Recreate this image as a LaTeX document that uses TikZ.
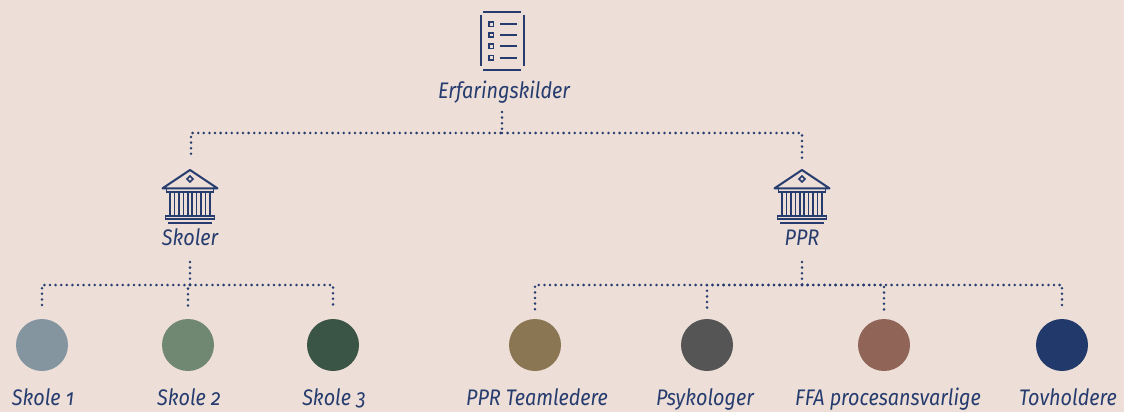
\documentclass[tikz,border=0pt]{standalone}
\usepackage{fontspec}
\setmainfont{Fira Sans}[Numbers=OldStyle,FakeStretch=0.88]
\usetikzlibrary{positioning}

\definecolor{bg}{HTML}{EDDFD8}
\definecolor{navy}{HTML}{263C6E}
\definecolor{cskoleA}{HTML}{8495A0}
\definecolor{cskoleB}{HTML}{708772}
\definecolor{cskoleC}{HTML}{3A5445}
\definecolor{cteam}{HTML}{8B7654}
\definecolor{cpsyk}{HTML}{555555}
\definecolor{cffa}{HTML}{906558}
\definecolor{ctov}{HTML}{223A6B}

\tikzset{
  dotline/.style={navy,line width=2.8pt,line cap=round,dash pattern=on 0pt off 5.6pt},
  lbl/.style={text=navy,font=\itshape\fontsize{22.5}{26}\selectfont,anchor=base,inner sep=0pt},
  dot/.style={circle,minimum size=52pt,inner sep=0pt},
  bank/.pic={
    \draw[navy,line width=2pt,line join=round]
      (-27.5,18.3) -- (0,0) -- (27.5,18.3) -- cycle;
    \draw[navy,line width=1.6pt] (0,6) -- (3,9) -- (0,12) -- (-3,9) -- cycle;
    \draw[navy,line width=1.6pt] (-23.5,18.5) rectangle (23.5,22);
    \foreach \cx in {-17.6,-8.8,0,8.8,17.6}
      \draw[navy,line width=1.6pt] (\cx-2.2,22) rectangle (\cx+2.2,45.7);
    \draw[navy,line width=1.6pt] (-24.5,45.7) rectangle (24.5,49);
    \draw[navy,line width=2pt] (-22,53.3) -- (22,53.3);
  },
}

\begin{document}
\begin{tikzpicture}[x=1pt,y=-1pt]
\fill[bg] (0,0) rectangle (1124,412);
\useasboundingbox (0,0) rectangle (1124,412);

% dokument-ikon
\draw[navy,line width=2.2pt] (483,12) -- (521,12);
\draw[navy,line width=2.2pt] (483,70) -- (521,70);
\draw[navy,line width=2.2pt] (481,15) -- (481,66);
\draw[navy,line width=2.2pt] (524,15) -- (524,66);
\foreach \ry in {24.3,35,46.3,57.7}{
  \draw[navy,line width=1.8pt] (489,\ry-2.2) rectangle (493.4,\ry+2.2);
  \draw[navy,line width=2.2pt] (500,\ry) -- (517,\ry);
}
\node[lbl] (erf) at (504,98) {Erfaringskilder};

% bygninger
\pic at (190,170) {bank};
\pic at (802,170) {bank};
\node[lbl] (skoler) at (190,245) {Skoler};
\node[lbl] (ppr) at (802,245) {PPR};

% cirkler
\node[dot,fill=cskoleA] (s1) at (42,345) {};
\node[dot,fill=cskoleB] (s2) at (188,345) {};
\node[dot,fill=cskoleC] (s3) at (333,345) {};
\node[dot,fill=cteam] (team) at (535,345) {};
\node[dot,fill=cpsyk] (psyk) at (707,345) {};
\node[dot,fill=cffa] (ffa) at (884,345) {};
\node[dot,fill=ctov] (tov) at (1062,345) {};

\node[lbl] (s1t) at (43,405) {Skole 1};
\node[lbl] (s2t) at (189,405) {Skole 2};
\node[lbl] (s3t) at (334,405) {Skole 3};
\node[lbl] (teamt) at (537,405) {PPR Teamledere};
\node[lbl] (psykt) at (705,405) {Psykologer};
\node[lbl] (ffat) at (888,405) {FFA procesansvarlige};
\node[lbl] (tovt) at (1068,405) {Tovholdere};

% forbindelser
\coordinate (erf-ud) at (502,112);
\coordinate (jE) at (502,133);
\coordinate (skoler-ind) at (191,159);
\coordinate (ppr-ind) at (802,159);
\coordinate (skoler-ud) at (190,262);
\coordinate (ppr-ud) at (802,262);
\coordinate (jS) at (190,285);
\coordinate (jP) at (802,285);

\draw[dotline] (erf-ud) -- (jE) -| (skoler-ind);
\draw[dotline] (jE) -| (ppr-ind);

\draw[dotline] (skoler-ud) -- (jS);
\draw[dotline,shorten >=9pt] (jS) -| (s1);
\draw[dotline,shorten >=9pt] (jS) -| (s2);
\draw[dotline,shorten >=9pt] (jS) -| (s3);

\draw[dotline] (ppr-ud) -- (jP);
\draw[dotline,shorten >=9pt] (jP) -| (team);
\draw[dotline,shorten >=9pt] (jP) -| (psyk);
\draw[dotline,shorten >=9pt] (jP) -| (ffa);
\draw[dotline,shorten >=9pt] (jP) -| (tov);
\end{tikzpicture}
\end{document}
